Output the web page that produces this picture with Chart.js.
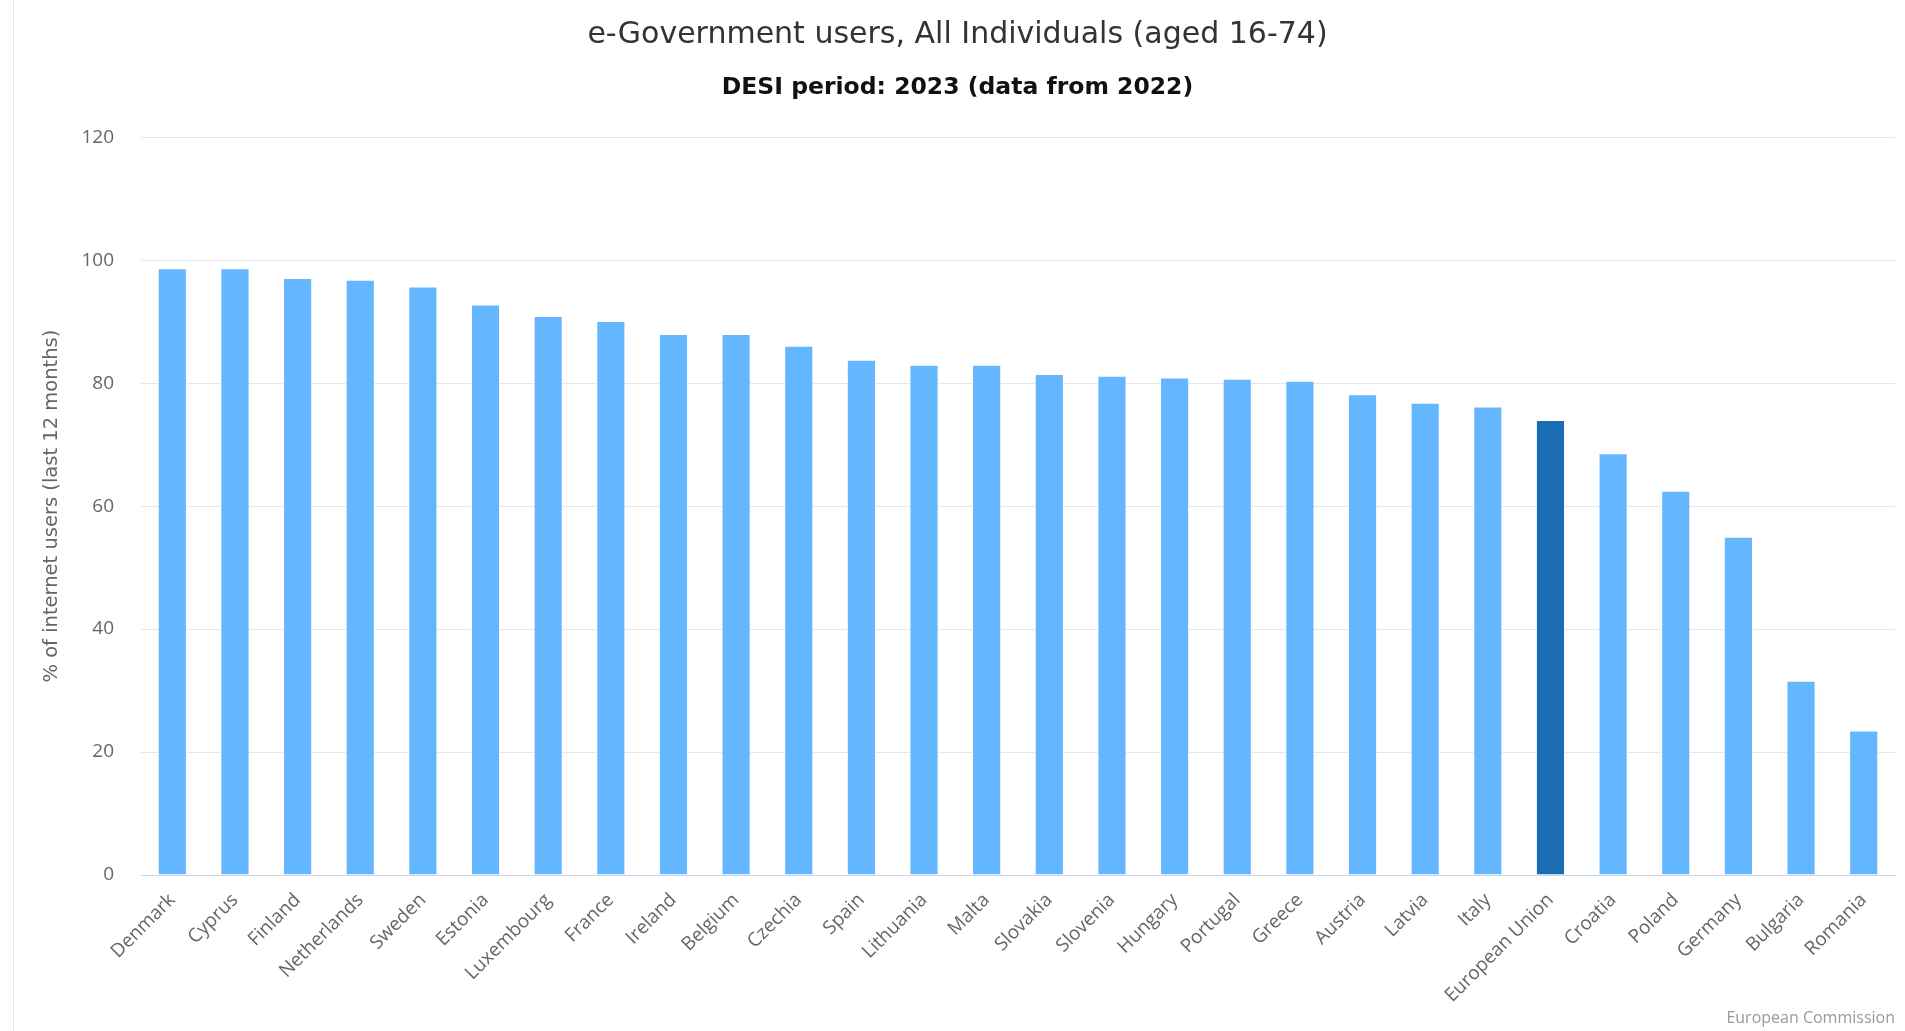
<!DOCTYPE html>
<html>
<head>
<meta charset="utf-8">
<script src="https://cdn.jsdelivr.net/npm/chart.js@4.4.0/dist/chart.umd.min.js"></script>
<style>
    html, body { margin: 0; padding: 0; background: #fff; }
    #wrap { position: relative; width: 1905px; height: 1031px; }
    #edge { position: absolute; left: 13px; top: 0; bottom: 0; border-left: 1px solid #e6e6e6; }
    #credit { position: absolute; right: 10px; bottom: 3px; font: 16px "Open Sans", sans-serif; color: #999; }
</style>
</head>
<body>
<div id="wrap">
    <canvas id="chart" width="1905" height="1031"></canvas>
    <div id="edge"></div>
    <div id="credit">European Commission</div>
</div>
<script>
const countries = ['Denmark', 'Cyprus', 'Finland', 'Netherlands', 'Sweden', 'Estonia', 'Luxembourg',
    'France', 'Ireland', 'Belgium', 'Czechia', 'Spain', 'Lithuania', 'Malta', 'Slovakia', 'Slovenia',
    'Hungary', 'Portugal', 'Greece', 'Austria', 'Latvia', 'Italy', 'European Union', 'Croatia',
    'Poland', 'Germany', 'Bulgaria', 'Romania'];
const users = [98.7, 98.7, 97.1, 96.8, 95.7, 92.8, 90.9, 90.1, 88.0, 88.0, 86.1, 83.8, 83.0, 83.0,
    81.5, 81.2, 80.9, 80.7, 80.4, 78.2, 76.8, 76.2, 74.0, 68.6, 62.5, 55.0, 31.6, 23.5];
const yTicks = [0, 20, 40, 60, 80, 100, 120];

const FONT = '"Open Sans", sans-serif';
const WIDE = '"DejaVu Sans", sans-serif';
const barColors = countries.map(c => c === 'European Union' ? '#1a6cb3' : '#64b6fe');

new Chart(document.getElementById('chart'), {
    type: 'bar',
    data: {
        labels: countries,
        datasets: [{
            data: users,
            backgroundColor: barColors,
            borderColor: 'rgba(255,255,255,0.7)',
            borderWidth: 1,
            borderSkipped: 'bottom',
            categoryPercentage: 1,
            barPercentage: 0.465
        }]
    },
    options: {
        responsive: false,
        animation: false,
        devicePixelRatio: 1,
        layout: { padding: { left: 20, right: 10, top: 0, bottom: 0 } },
        plugins: {
            legend: { display: false },
            tooltip: { enabled: false },
            title: {
                display: true,
                text: 'e-Government users, All Individuals (aged 16-74)',
                color: '#333',
                font: { family: WIDE, size: 30, weight: 'normal' },
                padding: { top: 17, bottom: 11 }
            },
            subtitle: {
                display: true,
                text: 'DESI period: 2023 (data from 2022)',
                color: '#111',
                font: { family: WIDE, size: 23.5, weight: 'bold' },
                padding: { top: 10, bottom: 35 }
            }
        },
        scales: {
            y: {
                min: yTicks[0],
                max: yTicks[yTicks.length - 1],
                afterBuildTicks: s => { s.ticks = yTicks.map(v => ({ value: v })); },
                afterFit: s => { s.width = 121; },
                ticks: { color: '#666', font: { family: FONT, size: 19 }, padding: 27 },
                grid: { color: '#e6e6e6', drawTicks: false },
                border: { display: false },
                title: {
                    display: true,
                    text: '% of internet users (last 12 months)',
                    color: '#666',
                    font: { family: WIDE, size: 19.5 },
                    padding: { top: 20 }
                }
            },
            x: {
                afterFit: s => { s.height = 156; },
                ticks: { color: '#666', font: { family: FONT, size: 19 }, minRotation: 45, maxRotation: 45, padding: 6 },
                grid: { display: false },
                border: { color: '#ccd6eb', width: 1 }
            }
        }
    }
});
</script>
</body>
</html>
